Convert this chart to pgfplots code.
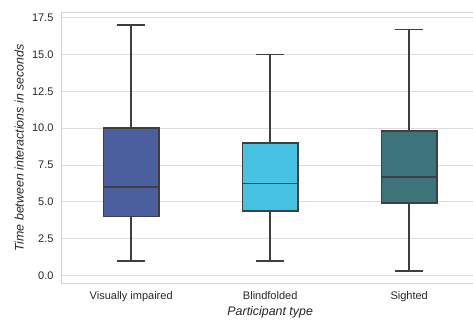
\documentclass[border=0pt]{standalone}
\usepackage{fontspec}
\setmainfont{Liberation Sans}
\usepackage{pgfplots}
\pgfplotsset{compat=1.18}
\usepgfplotslibrary{statistics}
\definecolor{cvi}{HTML}{4B5F9E}
\definecolor{cbf}{HTML}{46C3E3}
\definecolor{csi}{HTML}{3D747B}
\definecolor{edge}{HTML}{3F3F3F}
\definecolor{gridc}{HTML}{DDDDDD}
\definecolor{spine}{HTML}{D3D3D3}
\definecolor{txt}{HTML}{262626}
\begin{document}
\begin{tikzpicture}
\begin{axis}[
  scale only axis,
  width=417bp, height=270.8bp,
  xmin=-0.5, xmax=2.5, ymin=-0.535, ymax=17.835,
  xtick={0,1,2},
  xticklabels={Visually impaired, Blindfolded, Sighted},
  ytick={0,2.5,5,7.5,10,12.5,15,17.5},
  major tick length=0pt,
  ymajorgrids,
  grid style={gridc, line width=1bp},
  axis line style={spine, line width=1.2bp},
  tick label style={font=\fontsize{11bp}{13bp}\selectfont, text=txt},
  /pgf/number format/assume math mode=true,
  yticklabel={\pgfmathprintnumber[fixed,fixed zerofill,precision=1]{\tick}},
  yticklabel style={xshift=-4.7bp},
  xticklabel style={yshift=-4.5bp},
  label style={font=\fontsize{12.4bp}{14bp}\selectfont\itshape, text=txt},
  xlabel={Participant type},
  ylabel={Time between interactions in seconds},
  xlabel style={at={(axis description cs:0.5,-0.0857)}, anchor=north, inner sep=0pt},
  ylabel style={at={(axis description cs:-0.0904,0.5)}, anchor=south, inner sep=0pt},
  boxplot/draw direction=y,
  boxplot/box extend=0.4,
  boxplot/whisker extend=0.2,
]
\addplot[fill=cvi, draw=edge, line width=1.6bp, solid,
  boxplot prepared={lower whisker=1.0, lower quartile=4.0, median=6.0,
    upper quartile=10.0, upper whisker=17.0, draw position=0}] coordinates {};
\addplot[fill=cbf, draw=edge, line width=1.6bp, solid,
  boxplot prepared={lower whisker=1.0, lower quartile=4.4, median=6.25,
    upper quartile=9.0, upper whisker=15.0, draw position=1}] coordinates {};
\addplot[fill=csi, draw=edge, line width=1.6bp, solid,
  boxplot prepared={lower whisker=0.3, lower quartile=4.93, median=6.7,
    upper quartile=9.83, upper whisker=16.7, draw position=2}] coordinates {};
\end{axis}
\pgfresetboundingbox
\path[use as bounding box] ([xshift=-61.7bp,yshift=-36.5bp]current axis.south west) rectangle ++(473bp,320bp);
\end{tikzpicture}
\end{document}
